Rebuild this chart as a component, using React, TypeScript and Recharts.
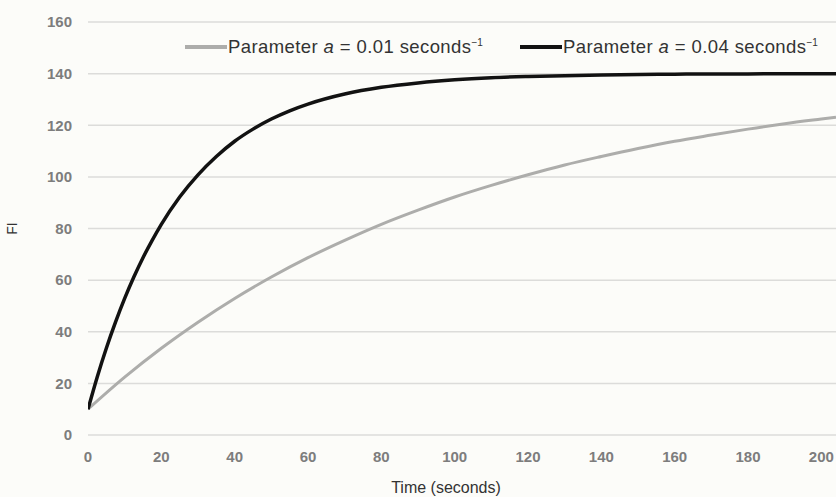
import React from "react";
import { LineChart, Line, XAxis, YAxis, CartesianGrid } from "recharts";

// Time (seconds) and FI values
const grayTimes = [0, 10, 20, 30, 40, 50, 60, 70, 80, 90, 100, 110, 120, 130, 140, 150, 160, 170, 180, 190, 200, 204];
const grayFI = [10, 22.4, 33.6, 43.7, 52.9, 61.2, 68.7, 75.4, 81.6, 87.1, 92.2, 96.7, 100.8, 104.6, 107.9, 111.0, 113.8, 116.2, 118.5, 120.6, 122.4, 123.1];

const blackTimes = [0, 2.5, 5, 7.5, 10, 12.5, 15, 17.5, 20, 25, 30, 35, 40, 45, 50, 55, 60, 70, 80, 90, 100, 110, 120, 140, 160, 180, 204];
const blackFI = [10, 22.4, 33.6, 43.7, 52.9, 61.2, 68.7, 75.4, 81.6, 92.2, 100.8, 107.9, 113.8, 118.5, 122.4, 125.6, 128.2, 132.1, 134.7, 136.4, 137.6, 138.4, 138.9, 139.5, 139.8, 139.9, 140];

const xTicks = [0, 20, 40, 60, 80, 100, 120, 140, 160, 180, 200];
const yTicks = [0, 20, 40, 60, 80, 100, 120, 140, 160];

const legendValues = ["0.01", "0.04"];

const grayData = grayTimes.map((t, i) => ({ t, fi: grayFI[i] }));
const blackData = blackTimes.map((t, i) => ({ t, fi: blackFI[i] }));

const FONT = "'Liberation Sans', Arial, Helvetica, sans-serif";
const GRAY = "#adadab";
const BLACK = "#121212";

function LegendItem({ color, value, left }: { color: string; value: string; left: number }) {
  return (
    <div
      style={{
        position: "absolute",
        left,
        top: 35,
        height: 24,
        display: "flex",
        alignItems: "center",
        fontFamily: FONT,
        fontSize: 18.5,
        letterSpacing: 0.4,
        color: "#333",
        whiteSpace: "nowrap",
      }}
    >
      <div style={{ width: 42, height: 3.5, background: color, marginRight: 1 }} />
      <span>
        Parameter <i>a</i> = {value} seconds
        <sup style={{ fontSize: 10, verticalAlign: "7px", letterSpacing: 0 }}>−1</sup>
      </span>
    </div>
  );
}

export default function App() {
  return (
    <div style={{ position: "absolute", left: 0, top: 0, width: 836, height: 497, background: "#fcfcf9" }}>
      <LineChart width={836} height={497} margin={{ top: 22, right: 0, bottom: 0, left: 0 }}>
        <CartesianGrid horizontal vertical={false} stroke="#dcdcda" strokeWidth={1.5} />
        <XAxis
          type="number"
          dataKey="t"
          domain={[0, 204]}
          ticks={xTicks}
          allowDataOverflow
          height={62}
          axisLine={false}
          tickLine={false}
          tickSize={0}
          tickMargin={16}
          tick={{ fill: "#7d7d7d", fontSize: 15, fontWeight: "bold", fontFamily: FONT }}
          label={{
            value: "Time (seconds)",
            position: "insideBottom",
            offset: 4,
            dx: -16,
            style: { fill: "#333", fontSize: 16, fontFamily: FONT },
          }}
        />
        <YAxis
          type="number"
          domain={[0, 160]}
          ticks={yTicks}
          width={88}
          axisLine={false}
          tickLine={false}
          tickSize={0}
          tickMargin={16}
          tick={{ fill: "#7d7d7d", fontSize: 15, fontWeight: "bold", fontFamily: FONT }}
          label={{
            value: "FI",
            angle: -90,
            position: "insideLeft",
            offset: 12,
            style: { fill: "#333", fontSize: 14, fontFamily: FONT, textAnchor: "middle" },
          }}
        />
        <Line
          data={grayData}
          dataKey="fi"
          type="monotone"
          stroke={GRAY}
          strokeWidth={3}
          dot={false}
          isAnimationActive={false}
        />
        <Line
          data={blackData}
          dataKey="fi"
          type="monotone"
          stroke={BLACK}
          strokeWidth={3.5}
          dot={false}
          isAnimationActive={false}
        />
      </LineChart>
      <LegendItem color={GRAY} value={legendValues[0]} left={185} />
      <LegendItem color={BLACK} value={legendValues[1]} left={520} />
    </div>
  );
}
